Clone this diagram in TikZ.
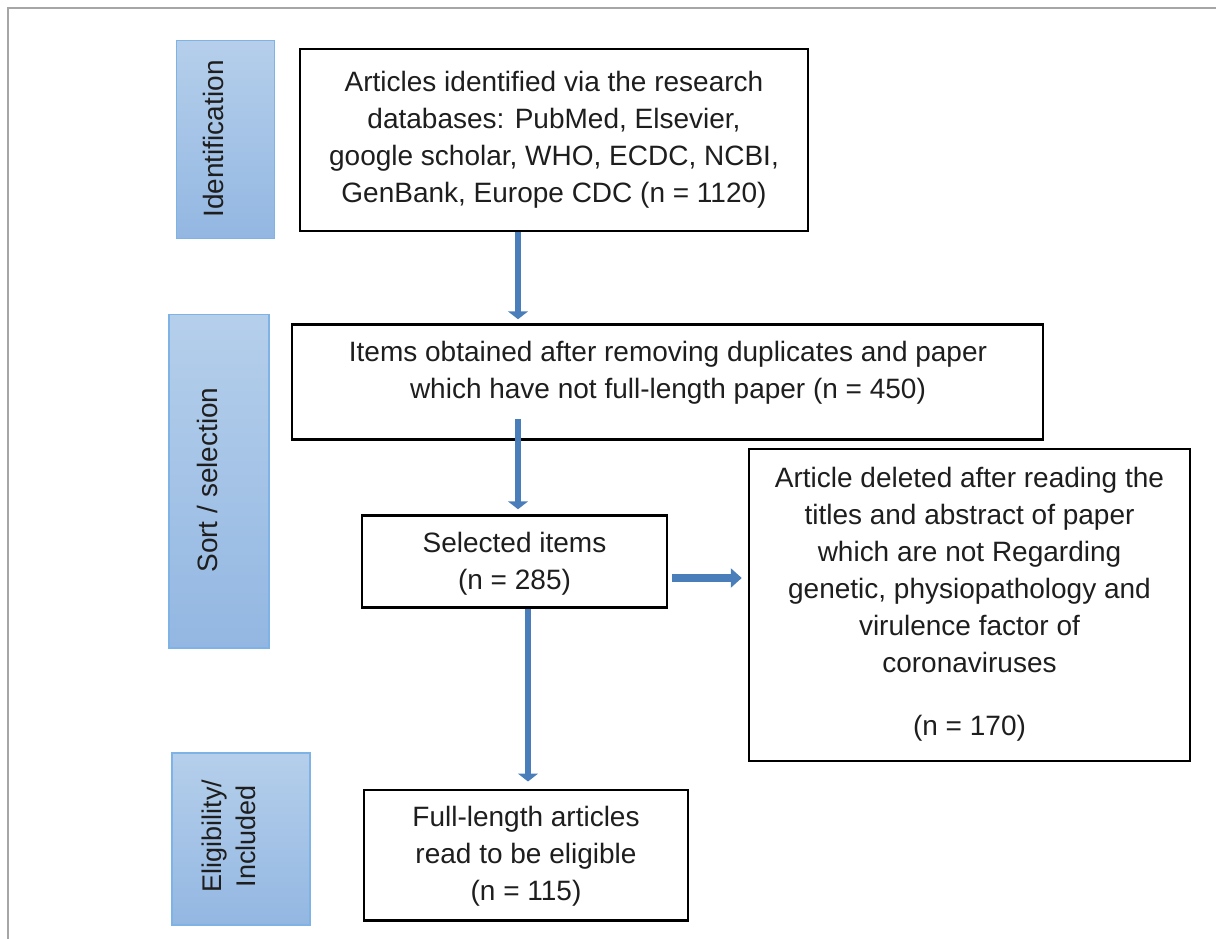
\documentclass[tikz,border=0pt]{standalone}
\usepackage{fontspec}
\setmainfont{Liberation Sans}
\usetikzlibrary{arrows.meta,calc}
\definecolor{sideTop}{HTML}{B5CFEB}
\definecolor{sideBot}{HTML}{93B7E2}
\definecolor{sideEdge}{HTML}{7FB2E5}
\definecolor{arrowBlue}{HTML}{4A7EBB}
\definecolor{frameGray}{HTML}{A6A6A6}
\definecolor{txtcol}{HTML}{1E1E1E}
\begin{document}
\begin{tikzpicture}[x=1pt,y=-1pt,
  flowbox/.style={draw=black, line width=2.5pt, fill=white, inner sep=0pt},
  boxtext/.style={text=txtcol, align=center, font=\fontsize{28pt}{37pt}\selectfont, inner sep=0pt},
  sidebox/.style={draw=sideEdge, line width=1.5pt, top color=sideTop, bottom color=sideBot, inner sep=0pt},
  sidetext/.style={text=txtcol, align=center, rotate=90, font=\fontsize{28pt}{34pt}\selectfont, inner sep=0pt},
  downarrow/.style={draw=arrowBlue, line width=6pt, -{Triangle[width=20pt,length=8pt]}},
  rightarrow/.style={draw=arrowBlue, line width=8pt, -{Triangle[width=19pt,length=11pt]}}
]
\useasboundingbox (0,0) rectangle (1216,939);
\draw[frameGray, line width=2pt] (8,939) -- (8,8.5) -- (1216,8.5);

% side labels
\node[sidebox, minimum width=98pt, minimum height=198pt] (sid) at (225.5,139.5) {};
\node[sidetext] (tid) at (213,139) {Identification};
\node[sidebox, minimum width=100pt, minimum height=333.5pt] (ssort) at (219,481.3) {};
\node[sidetext] (tsort) at (207,480) {Sort / selection};
\node[sidebox, minimum width=138pt, minimum height=172pt] (selig) at (241,839) {};
\node[sidetext, font=\fontsize{27pt}{34pt}\selectfont] (telig) at (229,836) {Eligibility/\\Included};

% flow boxes
\node[flowbox, minimum width=508pt, minimum height=182pt] (b1) at (554,140) {};
\node[boxtext] (t1) at (554,139.5) {Articles identified via the research\\databases: PubMed, Elsevier,\\google scholar, WHO, ECDC, NCBI,\\GenBank, Europe CDC (n = 1120)};

\node[flowbox, minimum width=751pt, minimum height=115pt] (b2) at (667.5,382) {};
\node[boxtext] (t2) at (668,372.5) {Items obtained after removing duplicates and paper\\which have not full-length paper (n = 450)};

\node[flowbox, minimum width=305pt, minimum height=92pt] (b3) at (514.5,561.5) {};
\node[boxtext] (t3) at (514.5,563.5) {Selected items\\(n = 285)};

\node[flowbox, minimum width=441pt, minimum height=312pt] (b4) at (969.5,605) {};
\node[boxtext] (t4) at (969.5,604.5) {Article deleted after reading the\\titles and abstract of paper\\which are not Regarding\\genetic, physiopathology and\\virulence factor of\\coronaviruses\\[26pt](n = 170)};

\node[flowbox, minimum width=324pt, minimum height=130.5pt] (b5) at (526,855) {};
\node[boxtext] (t5) at (526,856) {Full-length articles\\read to be eligible\\(n = 115)};

% connectors
\draw[downarrow] ([xshift=-36pt]b1.south) -- ([xshift=-149.5pt,yshift=4pt]b2.north);
\draw[downarrow] ([xshift=-149.5pt,yshift=22pt]b2.south) -- ([xshift=3.5pt,yshift=5pt]b3.north);
\draw[downarrow] ([xshift=13.5pt]b3.south) -- ([xshift=2pt,yshift=7pt]b5.north);
\draw[rightarrow] ([xshift=4pt,yshift=-16.5pt]b3.east) -- ([xshift=-6pt,yshift=27pt]b4.west);
\end{tikzpicture}
\end{document}
